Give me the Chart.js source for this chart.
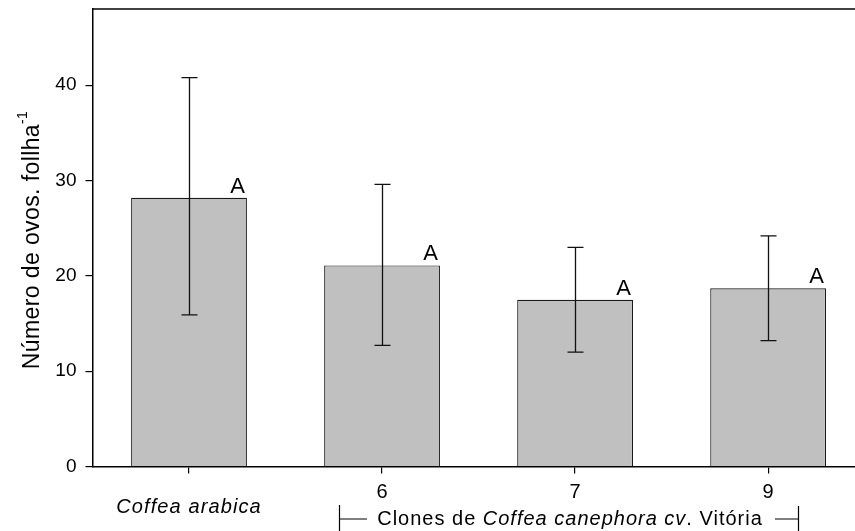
<!DOCTYPE html>
<html>
<head>
<meta charset="utf-8">
<script src="https://cdn.jsdelivr.net/npm/chart.js@4/dist/chart.umd.min.js"></script>
<style>
  html, body { margin: 0; padding: 0; background: #fff; overflow: hidden; }
  #wrap { width: 855px; height: 531px; position: relative; }
</style>
</head>
<body>
<div id="wrap"><canvas id="chart" width="855" height="531"></canvas></div>
<script>
'use strict';

/* ─── Data ──────────────────────────────────────────────── */
const groups     = ['Coffea arabica', '6', '7', '9'];
const positions  = [0, 1, 2, 3];
const means      = [28.2, 21.1, 17.5, 18.7];
const errUpper   = [40.8, 29.6, 23.0, 24.2];
const errLower   = [15.9, 12.7, 12.0, 13.2];
const letters    = ['A', 'A', 'A', 'A'];
const yTicks     = [0, 10, 20, 30, 40];

const FONT = "'Liberation Sans', Arial, Helvetica, sans-serif";

/* ─── Error bars + letters + frame + labels ─────────────── */
const extras = {
  id: 'extras',
  afterDatasetsDraw(chart) {
    const { ctx, chartArea: a, scales: { x, y } } = chart;
    const bars = chart.getDatasetMeta(0).data;
    ctx.save();

    // error bars
    ctx.strokeStyle = '#111';
    ctx.lineWidth = 1.3;
    bars.forEach((b, i) => {
      const cx = Math.round(b.x) + 0.5;
      const yt = y.getPixelForValue(errUpper[i]);
      const yb = y.getPixelForValue(errLower[i]);
      ctx.beginPath();
      ctx.moveTo(cx, yt); ctx.lineTo(cx, yb);
      ctx.moveTo(cx - 8, yt); ctx.lineTo(cx + 8, yt);
      ctx.moveTo(cx - 8, yb); ctx.lineTo(cx + 8, yb);
      ctx.stroke();
    });

    // significance letters
    ctx.fillStyle = '#000';
    ctx.font = '22px ' + FONT;
    ctx.textAlign = 'right';
    ctx.textBaseline = 'alphabetic';
    bars.forEach((b, i) => {
      ctx.fillText(letters[i], b.x + b.width / 2 - 2, b.y - 5);
    });

    // top frame line
    ctx.strokeStyle = '#000';
    ctx.lineWidth = 1.5;
    ctx.beginPath();
    ctx.moveTo(a.left, a.top); ctx.lineTo(a.right, a.top);
    ctx.stroke();

    // x category labels
    ctx.font = '20px ' + FONT;
    ctx.textAlign = 'center';
    ctx.textBaseline = 'middle';
    for (let i = 1; i < groups.length; i++) {
      ctx.fillText(groups[i], x.getPixelForValue(positions[i]), 492);
    }
    ctx.letterSpacing = '1.1px';
    ctx.font = 'italic 20px ' + FONT;
    ctx.fillText(groups[0], x.getPixelForValue(positions[0]), 507);

    // group bracket: Clones de Coffea canephora cv. Vitória
    const parts = [
      ['Clones de ', ''],
      ['Coffea canephora cv', 'italic '],
      ['. Vitória', ''],
    ];
    ctx.letterSpacing = '1px';
    let wTot = 0;
    parts.forEach(p => { ctx.font = p[1] + '20px ' + FONT; wTot += ctx.measureText(p[0]).width; });
    const midX = 570;
    let tx = midX - wTot / 2;
    const ty = 519;
    ctx.textAlign = 'left';
    parts.forEach(p => {
      ctx.font = p[1] + '20px ' + FONT;
      ctx.fillText(p[0], tx, ty);
      tx += ctx.measureText(p[0]).width;
    });
    const lx = 339.5, rx = 798.5;
    ctx.lineWidth = 1.2;
    ctx.beginPath();
    ctx.moveTo(lx, 505); ctx.lineTo(lx, 531);
    ctx.moveTo(lx, ty); ctx.lineTo(367, ty);
    ctx.moveTo(775, ty); ctx.lineTo(rx, ty);
    ctx.moveTo(rx, 506); ctx.lineTo(rx, 531);
    ctx.stroke();

    // y axis title with superscript
    ctx.translate(33, 240);
    ctx.rotate(-Math.PI / 2);
    const main = 'Número de ovos. follha';
    const sup = '-1';
    ctx.letterSpacing = '0.4px';
    ctx.font = '23px ' + FONT;
    const wMain = ctx.measureText(main).width;
    ctx.font = '14px ' + FONT;
    const wSup = ctx.measureText(sup).width;
    const x0 = -(wMain + wSup) / 2;
    ctx.textAlign = 'left';
    ctx.textBaseline = 'middle';
    ctx.font = '23px ' + FONT;
    ctx.fillText(main, x0, 0);
    ctx.font = '14px ' + FONT;
    ctx.fillText(sup, x0 + wMain, -10);

    ctx.restore();
  }
};

/* ─── Chart ─────────────────────────────────────────────── */
new Chart(document.getElementById('chart'), {
  type: 'bar',
  data: {
    datasets: [{
      data: positions.map((p, i) => ({ x: p, y: means[i] })),
      backgroundColor: '#c0c0c0',
      borderColor: '#1a1a1a',
      borderWidth: 1.2,
      barPercentage: 0.6,
      categoryPercentage: 1,
    }]
  },
  options: {
    responsive: false,
    animation: false,
    events: [],
    layout: { padding: { top: 9, right: 0, left: 0, bottom: 0 } },
    plugins: { legend: { display: false }, tooltip: { enabled: false } },
    scales: {
      x: {
        type: 'linear',
        offset: false,
        min: -0.5,
        max: 3.45,
        afterBuildTicks: s => { s.ticks = positions.map(v => ({ value: v })); },
        afterFit: s => { s.height = 64.5; s.paddingLeft = 0; s.paddingRight = 0; },
        grid: { offset: false, drawOnChartArea: false, drawTicks: true, tickLength: 7, color: '#000', lineWidth: 1.2 },
        border: { color: '#000', width: 1.5 },
        ticks: { display: false },
      },
      y: {
        min: 0,
        max: 48,
        afterBuildTicks: s => { s.ticks = yTicks.map(v => ({ value: v })); },
        afterFit: s => { s.width = 92.5; s.paddingTop = 0; s.paddingBottom = 0; },
        grid: { drawOnChartArea: false, drawTicks: true, tickLength: 7, color: '#000', lineWidth: 1.2 },
        border: { color: '#000', width: 1.5 },
        ticks: { color: '#000', font: { family: FONT, size: 19 }, padding: 9 },
      },
    },
  },
  plugins: [extras],
});
</script>
</body>
</html>
